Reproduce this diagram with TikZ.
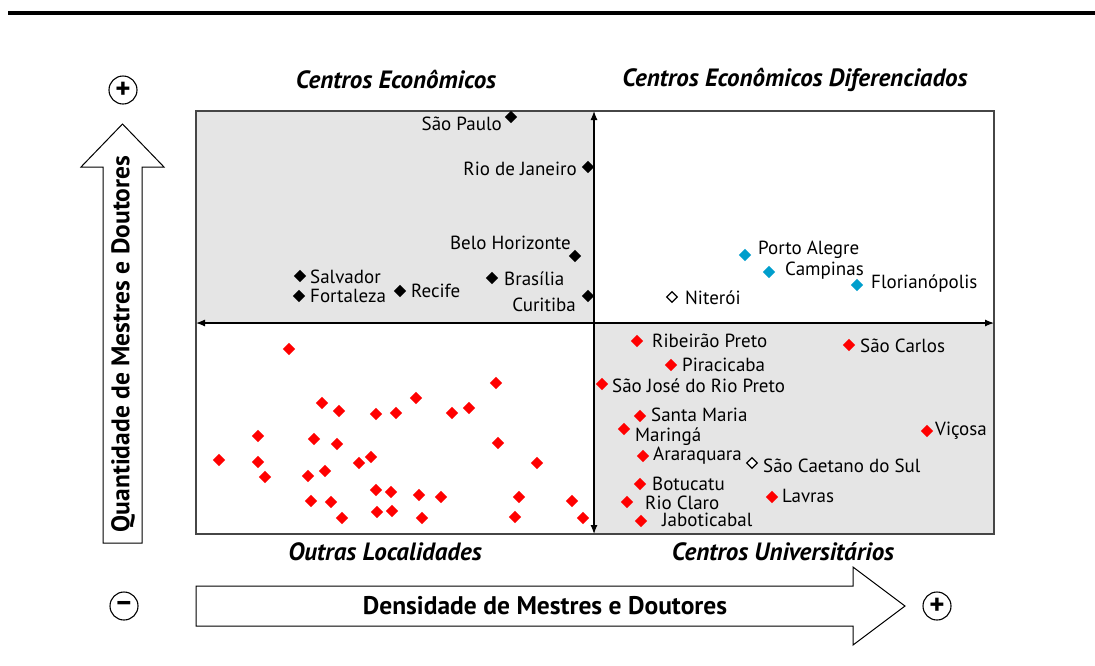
\documentclass[tikz,border=0pt]{standalone}
\usepackage{fontspec}
\setmainfont{PT Sans}
\usetikzlibrary{shapes.geometric,arrows.meta}
\definecolor{qgray}{RGB}{229,229,229}
\definecolor{qcyan}{RGB}{0,158,204}
\definecolor{qred}{RGB}{255,0,0}
\definecolor{qbox}{RGB}{70,70,70}
\begin{document}
\begin{tikzpicture}[x=1pt,y=-1pt,
  dia/.style={diamond, inner sep=0pt, minimum width=12.5, minimum height=12.5, fill=black},
  rd/.style={dia, fill=qred},
  cy/.style={dia, fill=qcyan},
  od/.style={diamond, inner sep=0pt, draw=black, fill=white, line width=1.3, minimum width=11, minimum height=11},
  lab/.style={font=\fontsize{19}{21}\selectfont, inner sep=0pt},
  ttl/.style={font=\fontsize{25}{28}\selectfont\bfseries\itshape, inner sep=0pt},
  axt/.style={font=\fontsize{25.5}{28}\selectfont\bfseries, inner sep=0pt},
  sgn/.style={circle, draw=black, line width=1.1, fill=white, minimum size=28, inner sep=0pt, font=\fontsize{29}{29}\selectfont\bfseries},
  bigarrow/.style={draw=black, fill=white, line width=1},
  axis/.style={line width=1.2, {Latex[length=9,width=7]}-{Latex[length=9,width=7]}}
]
\useasboundingbox (0,0) rectangle (1095,665);
% top rule
\draw[line width=4] (8,13) -- (1095,13);
% quadrant fills
\fill[qgray] (196,111) rectangle (594,323);
\fill[qgray] (594,323) rectangle (994,534);
\draw[qbox, line width=1.6] (196,111) rectangle (994,534);
% axes
\coordinate (xl) at (196,323);
\coordinate (xr) at (994,323);
\coordinate (yt) at (594,111);
\coordinate (yb) at (594,534);
\draw[axis] (xl) -- (xr);
\draw[axis] (yb) -- (yt);
% big arrows
\draw[bigarrow] (103,543) -- (103,167) -- (81,167) -- (122.5,124) -- (164,167) -- (142,167) -- (142,543) -- cycle;
\draw[bigarrow] (196,586) -- (853,586) -- (853,567) -- (905,606) -- (853,645) -- (853,626) -- (196,626) -- cycle;
\node[axt, rotate=90] (ylab) at (123,344) {Quantidade de Mestres e Doutores};
\node[axt] (xlab) at (545,606) {Densidade de Mestres e Doutores};
\node[sgn] (yplus) at (123,90) {+};
\node[sgn] (xminus) at (124,606) {–};
\node[sgn] (xplus) at (937,606) {+};
% titles
\node[ttl] (t1) at (396,80) {Centros Econômicos};
\node[ttl] (t2) at (795,80) {Centros Econômicos Diferenciados};
\node[ttl] (t3) at (385,552) {Outras Localidades};
\node[ttl] (t4) at (783,552) {Centros Universitários};
% Centros Economicos
\node[dia] (sp) at (511,117) {};
\node[lab, anchor=east] (spl) at (502,124) {São Paulo};
\node[dia] (rj) at (588,167) {};
\node[lab, anchor=east] (rjl) at (577,169) {Rio de Janeiro};
\node[dia] (bh) at (575,256) {};
\node[lab, anchor=east] (bhl) at (571,243) {Belo Horizonte};
\node[dia] (sa) at (300,276) {};
\node[lab, anchor=west] (sal) at (310,277) {Salvador};
\node[dia] (fo) at (299,296) {};
\node[lab, anchor=west] (fol) at (310,296) {Fortaleza};
\node[dia] (re) at (400,291) {};
\node[lab, anchor=west] (rel) at (411,291) {Recife};
\node[dia] (br) at (492,278) {};
\node[lab, anchor=west] (brl) at (504,279) {Brasília};
\node[dia] (cu) at (588,296) {};
\node[lab, anchor=east] (cul) at (576,305) {Curitiba};
% Diferenciados
\node[cy] (pa) at (745,255) {};
\node[lab, anchor=west] (pal) at (758,250) {Porto Alegre};
\node[cy] (ca) at (769,272) {};
\node[lab, anchor=west] (cal) at (785,271) {Campinas};
\node[cy] (fl) at (857,285) {};
\node[lab, anchor=west] (fll) at (871,284) {Florianópolis};
\node[od] (ni) at (672,297) {};
\node[lab, anchor=west] (nil) at (685,298) {Niterói};
% Universitarios
\node[rd] (rp) at (637,341) {};
\node[lab, anchor=west] (rpl) at (652,341) {Ribeirão Preto};
\node[rd] (sc) at (849,345) {};
\node[lab, anchor=west] (scl) at (860,346) {São Carlos};
\node[rd] (pi) at (671,365) {};
\node[lab, anchor=west] (pil) at (682,365) {Piracicaba};
\node[rd] (sj) at (602,384) {};
\node[lab, anchor=west] (sjl) at (612,386) {São José do Rio Preto};
\node[rd] (sm) at (640,416) {};
\node[lab, anchor=west] (sml) at (651,415) {Santa Maria};
\node[rd] (ma) at (624,429) {};
\node[lab, anchor=west] (mal) at (635,437) {Maringá};
\node[rd] (vi) at (927,431) {};
\node[lab, anchor=west] (vil) at (935,431) {Viçosa};
\node[rd] (ar) at (643,456) {};
\node[lab, anchor=west] (arl) at (653,456) {Araraquara};
\node[od] (scs) at (752,463) {};
\node[lab, anchor=west] (scsl) at (763,466) {São Caetano do Sul};
\node[rd] (bo) at (640,484) {};
\node[lab, anchor=west] (bol) at (652,484) {Botucatu};
\node[rd] (rc) at (627,502) {};
\node[lab, anchor=west] (rcl) at (645,503) {Rio Claro};
\node[rd] (la) at (772,497) {};
\node[lab, anchor=west] (lal) at (782,496) {Lavras};
\node[rd] (ja) at (641,521) {};
\node[lab, anchor=west] (jal) at (662,520) {Jaboticabal};
% Outras localidades
\foreach \px/\py [count=\i] in {289/349,496/383,322/403,339/411,376/414,396/413,416/398,452/413,469/408,258/436,314/439,337/444,498/443,219/460,258/462,265/477,308/476,325/471,359/463,371/457,537/463,376/490,391/492,419/495,441/497,519/497,572/501,311/501,331/502,342/518,377/512,392/511,422/518,515/517,583/518}
  \node[rd] (o\i) at (\px,\py) {};
\end{tikzpicture}
\end{document}
